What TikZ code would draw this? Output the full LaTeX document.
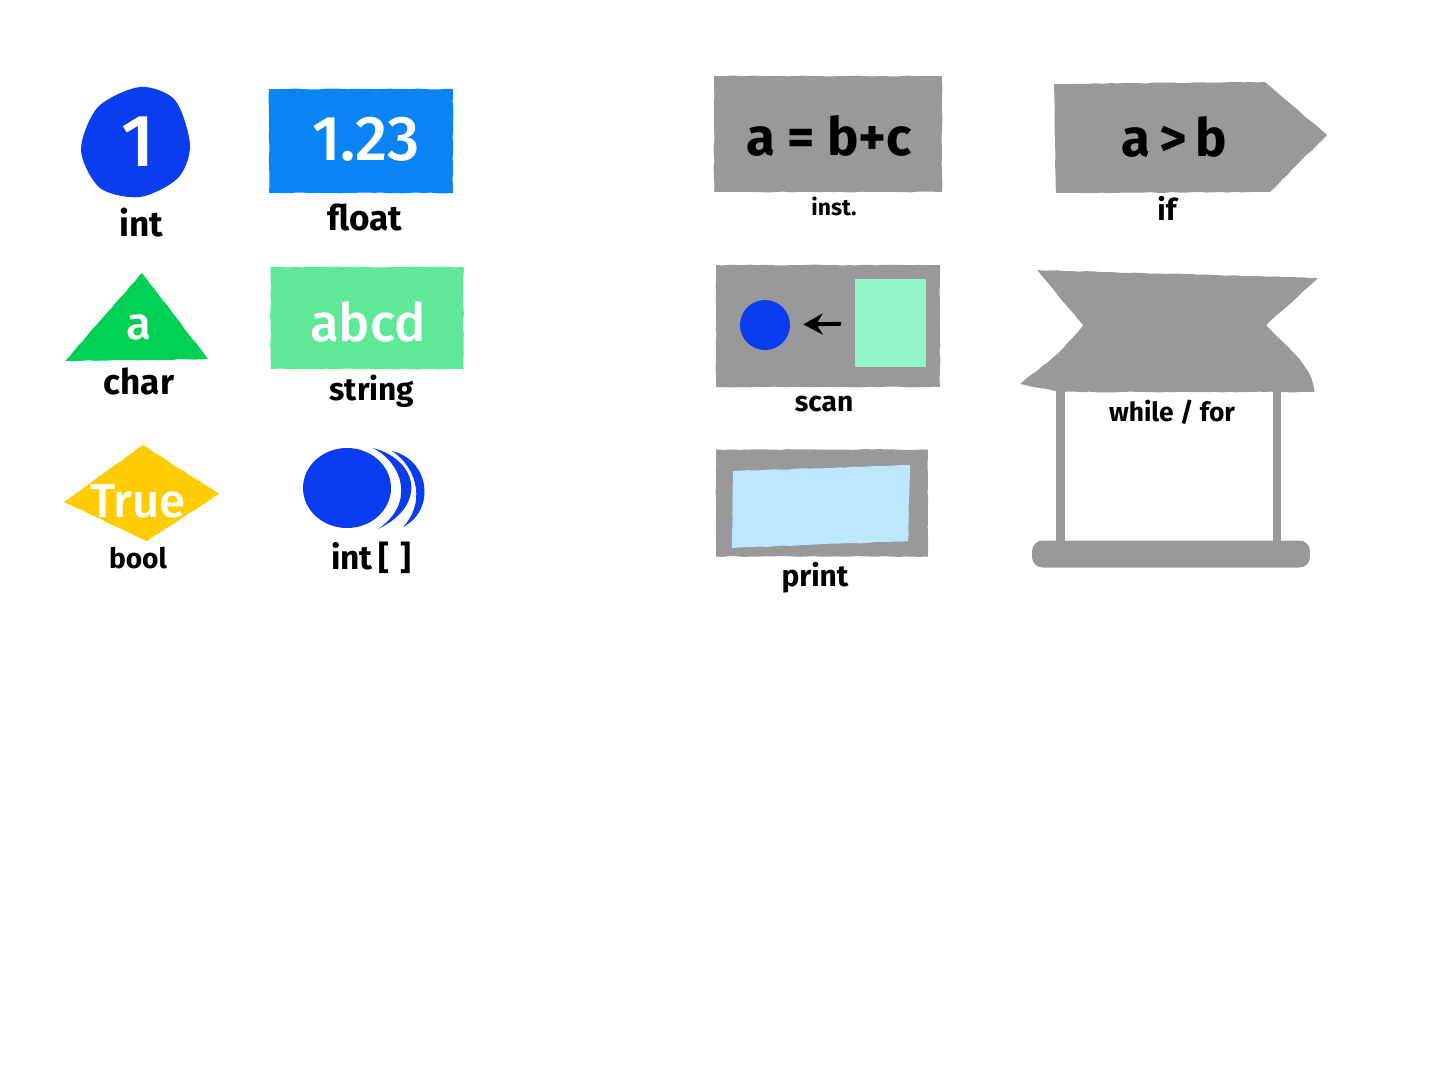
\documentclass[tikz,border=0pt]{standalone}
\usepackage{fontspec}
\setmainfont{Fira Sans}
\newfontfamily\valuefont{Fira Sans Medium}
\usetikzlibrary{arrows.meta,decorations.pathmorphing}
\definecolor{intblue}{HTML}{0A3CF0}
\definecolor{floatblue}{HTML}{0A84F5}
\definecolor{chargreen}{HTML}{00D154}
\definecolor{stringgreen}{HTML}{5FE898}
\definecolor{boolyellow}{HTML}{FFCC00}
\definecolor{blockgray}{HTML}{999999}
\definecolor{scangreen}{HTML}{90F5C8}
\definecolor{printblue}{HTML}{BDE6FF}
\pgfmathsetseed{7}
\tikzset{
  typelabel/.style = {font = \fontsize{#1}{#1}\selectfont\bfseries, text = black, inner sep = 0pt},
  valuetext/.style = {font = \fontsize{#1}{#1}\selectfont\valuefont, text = white, inner sep = 0pt},
  codetext/.style = {font = \fontsize{30}{32}\selectfont\bfseries, text = black, inner sep = 0pt},
  crayon/.style = {decorate, decoration = {random steps, segment length = 4pt, amplitude = 0.25pt}},
  pencilbox/.style = {rectangle, inner sep = 0pt, crayon},
}
\begin{document}
\begin{tikzpicture}[x = 0.02cm, y = -0.02cm]
      \useasboundingbox (0, 0) rectangle (1440, 1080);
      % data types
      \fill [intblue] plot [smooth cycle] coordinates {(81, 150) (98, 107) (140, 87) (175, 100) (190, 145) (178, 178) (140, 197) (100, 188)};
      \node (intvalue) [valuetext = 42] at (138, 142) {1};
      \node (intlabel) [typelabel = 20] at (141, 223) {int};
      \node (floatbox) [pencilbox, fill = floatblue, minimum width = 3.68cm, minimum height = 2.08cm] at (361, 141) {};
      \node (floatvalue) [valuetext = 36] at (366, 139) {1.23};
      \node (floatlabel) [typelabel = 20] at (365, 217) {float};
      \fill [chargreen, crayon] (142, 273) -- (208, 359) -- (65, 361) -- cycle;
      \node (charvalue) [valuetext = 26] at (139, 327) {a};
      \node (charlabel) [typelabel = 20] at (139, 381) {char};
      \node (stringbox) [pencilbox, fill = stringgreen, minimum width = 3.86cm, minimum height = 2.04cm] at (367, 318) {};
      \node (stringvalue) [valuetext = 30] at (368, 322) {abcd};
      \node (stringlabel) [typelabel = 18] at (372, 391) {string};
      \fill [boolyellow, crayon] (143, 445) -- (219, 494) -- (147, 541) -- (64, 502) -- cycle;
      \node (boolvalue) [valuetext = 27] at (138, 501) {True};
      \node (boollabel) [typelabel = 16] at (138, 558) {bool};
      \fill [intblue] (347, 488) ellipse [x radius = 44, y radius = 40];
      \fill [intblue] (373, 448) .. controls (418, 460) and (428, 505) .. (378, 529) .. controls (414, 505) and (405, 465) .. (373, 448) -- cycle;
      \fill [intblue] (392, 451) .. controls (430, 460) and (436, 510) .. (403, 527) .. controls (424, 505) and (420, 470) .. (392, 451) -- cycle;
      \node (arraylabel) [typelabel = 19] at (371, 558) {int\,[\,\,]};
      % instructions
      \node (instbox) [pencilbox, fill = blockgray, minimum width = 4.56cm, minimum height = 2.32cm] at (828, 134) {};
      \node (instcode) [codetext] at (829, 136) {a = b+c};
      \node (instlabel) [typelabel = 13] at (834, 206) {inst.};
      \fill [blockgray, crayon] (1054, 84) -- (1265, 82) -- (1327, 135) -- (1270, 192) -- (1056, 193) -- cycle;
      \node (ifcode) [codetext] at (1174, 137) {a\,>\,b};
      \node (iflabel) [typelabel = 17] at (1167, 208) {if};
      \node (scanbox) [pencilbox, fill = blockgray, minimum width = 4.48cm, minimum height = 2.44cm] at (828, 326) {};
      \node (scandata) [rectangle, fill = scangreen, inner sep = 0pt, minimum width = 1.42cm, minimum height = 1.76cm] at (890, 323) {};
      \node (scanvalue) [circle, fill = intblue, inner sep = 0pt, minimum size = 1cm] at (765, 325) {};
      \draw [-{Stealth[length = 11pt, width = 12pt]}, line width = 2.2pt, black, shorten > = 7.4pt, shorten < = 7.4pt] (scandata) -- (scanvalue);
      \node (scanlabel) [typelabel = 16] at (824, 404) {scan};
      \node (printbox) [pencilbox, fill = blockgray, minimum width = 4.24cm, minimum height = 2.14cm] at (822, 503) {};
      \fill [printblue, crayon] (733, 471) -- (910, 465) -- (908, 541) -- (732, 548) -- cycle;
      \node (printlabel) [typelabel = 17] at (815, 578) {print};
      % loop
      \fill [blockgray, crayon] (1037, 270) -- (1318, 278) -- (1266, 325) .. controls (1285, 345) and (1312, 365) .. (1314, 392) -- (1060, 392) -- (1020, 384) .. controls (1040, 368) and (1065, 350) .. (1083, 325) -- cycle;
      \fill [blockgray] (1056, 390) rectangle (1065, 542);
      \fill [blockgray] (1273, 390) rectangle (1281, 542);
      \node (loopbase) [rectangle, inner sep = 0pt, fill = blockgray, rounded corners = 6pt, minimum width = 5.56cm, minimum height = 0.54cm] at (1171, 554) {};
      \node (looplabel) [typelabel = 15] at (1172, 412) {while / for};
    \end{tikzpicture}
\end{document}
